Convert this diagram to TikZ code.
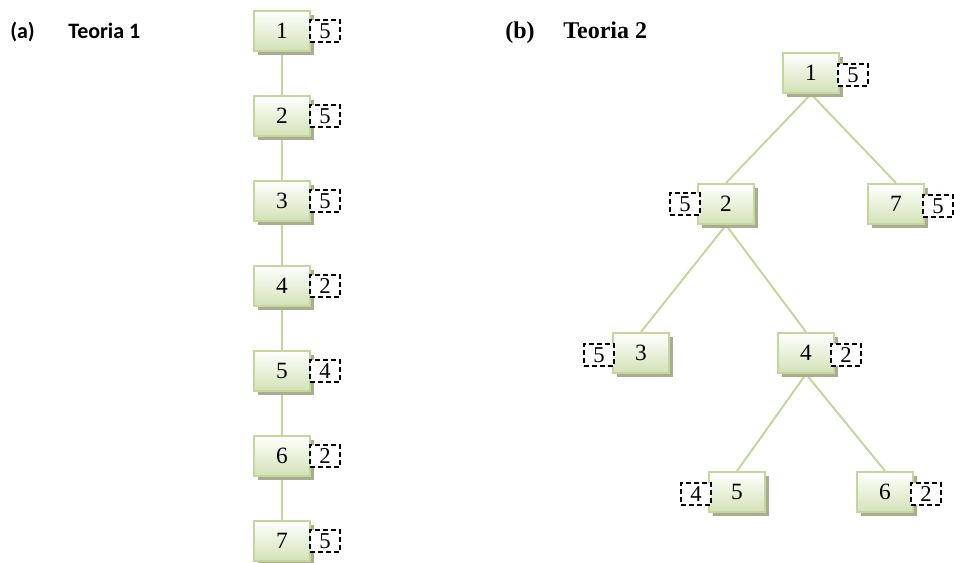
\documentclass[tikz,border=0pt]{standalone}
\usepackage{fontspec}
\setmainfont{Liberation Serif}
\newfontfamily\calfont{Carlito}
\newfontfamily\timesb{Liberation Serif Bold}
\usetikzlibrary{shadows,backgrounds}
\definecolor{boxgreen}{HTML}{D3E2B6}
\definecolor{edgegreen}{HTML}{C3D69B}
\definecolor{shadowc}{HTML}{A9AC8E}
\tikzset{
  nbox/.style={rectangle, draw=edgegreen, line width=1.6pt, shading=axis, top color=white, bottom color=boxgreen,
    minimum width=42pt, minimum height=30pt, inner sep=0pt, font=\fontsize{17.5}{19}\selectfont,
    general shadow={shadow xshift=3pt, shadow yshift=-3pt, fill=shadowc}},
  wbox/.style={rectangle, draw=black, fill=white, line width=1.5pt, dash pattern=on 3.4pt off 2.6pt,
    minimum width=22pt, minimum height=17pt, inner sep=0pt, font=\fontsize{17}{18}\selectfont},
  conn/.style={draw=edgegreen, line width=1.5pt},
  title/.style={anchor=base west, inner sep=0pt}
}
\begin{document}
\begin{tikzpicture}[x=0.75pt,y=-0.75pt]
\useasboundingbox (0,0) rectangle (954,563);
% titles
\node[title, font=\calfont\bfseries\fontsize{16.5}{18}\selectfont] (ta) at (10,39) {(a)};
\node[title, font=\calfont\bfseries\fontsize{16.5}{18}\selectfont] (tt1) at (68,39) {Teoria 1};
\node[title, font=\timesb\fontsize{18}{20}\selectfont] (tb) at (505,39) {(b)};
\node[title, font=\timesb\fontsize{18}{20}\selectfont] (tt2) at (563,39) {Teoria 2};
% left column
\foreach \i/\w [count=\k from 0] in {1/5,2/5,3/5,4/2,5/4,6/2,7/5}{
  \node[nbox] (L\i) at (282,{31+85*\k}) {\i};
  \node[wbox] (dL\i) at (325,{31+85*\k}) {\w};
}
% right tree
\node[nbox] (R1) at (811,73) {1};
\node[wbox] (dR1) at (853,75) {5};
\node[nbox] (R2) at (726,204) {2};
\node[wbox] (dR2) at (685,204) {5};
\node[nbox] (R7) at (896,204) {7};
\node[wbox] (dR7) at (938,206) {5};
\node[nbox] (R3) at (641,353) {3};
\node[wbox] (dR3) at (599,355) {5};
\node[nbox] (R4) at (806,353) {4};
\node[wbox] (dR4) at (846,355) {2};
\node[nbox] (R5) at (737,492) {5};
\node[wbox] (dR5) at (696,494) {4};
\node[nbox] (R6) at (885,492) {6};
\node[wbox] (dR6) at (926,494) {2};
\begin{pgfonlayer}{background}
\foreach \a/\b in {1/2,2/3,3/4,4/5,5/6,6/7}{
  \draw[conn] (L\a.south) -- (L\b.north);
}
\draw[conn] (R1.south) -- (R2.north);
\draw[conn] (R1.south) -- (R7.north);
\draw[conn] (R2.south) -- (R3.north);
\draw[conn] (R2.south) -- (R4.north);
\draw[conn] (R4.south) -- (R5.north);
\draw[conn] (R4.south) -- (R6.north);
\end{pgfonlayer}
\end{tikzpicture}
\end{document}
